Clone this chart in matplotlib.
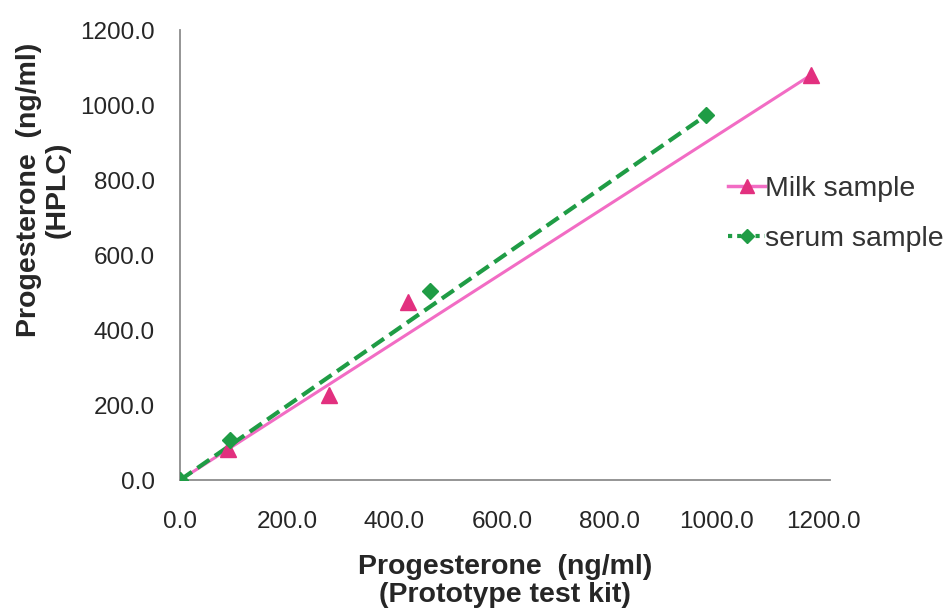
import numpy as np
import matplotlib.pyplot as plt
from matplotlib.lines import Line2D

plt.rcParams['font.family'] = ['Liberation Sans', 'DejaVu Sans']

# data (ng/ml)
milk_kit = [0.0, 89.0, 278.0, 426.0, 1176.0]
milk_hplc = [0.0, 83.0, 227.0, 475.0, 1080.0]
serum_kit = [0.0, 93.0, 467.0, 981.0]
serum_hplc = [0.0, 107.0, 504.0, 973.0]

ticks = [0, 200, 400, 600, 800, 1000, 1200]
tick_labels = ['%.1f' % t for t in ticks]

pink_line = '#f26cc4'
pink_mark = '#e2307f'
green = '#1f9c45'

fig = plt.figure(figsize=(9.52, 6.14), dpi=100)
ax = fig.add_axes([0.189, 0.218, 0.683, 0.733])

# trend lines through origin up to the last sample
k_milk = milk_hplc[-1] / milk_kit[-1]
k_serum = serum_hplc[-1] / serum_kit[-1]
xm = np.array([0.0, max(milk_kit)])
xs = np.array([0.0, max(serum_kit)])
ax.plot(xm, k_milk * xm, color=pink_line, lw=2.2, zorder=2)
ax.plot(xs, k_serum * xs, color=green, lw=3, dashes=(3.5, 1.6), zorder=3)

ax.plot(milk_kit, milk_hplc, ls='none', marker='^', ms=12, color=pink_mark, zorder=4)
ax.plot(serum_kit, serum_hplc, ls='none', marker='D', ms=8, color=green, zorder=5)

ax.set_xlim(0, 1212)
ax.set_ylim(0, 1200)
ax.set_xticks(ticks)
ax.set_xticklabels(tick_labels)
ax.set_yticks(ticks)
ax.set_yticklabels(tick_labels)
ax.tick_params(length=0, labelsize=17.5, colors='#262626')
ax.tick_params(axis='x', pad=22)
ax.tick_params(axis='y', pad=18)
for s in ['top', 'right']:
    ax.spines[s].set_visible(False)
for s in ['left', 'bottom']:
    ax.spines[s].set_color('#8c8c8c')
    ax.spines[s].set_linewidth(1.3)

ax.set_xlabel('Progesterone  (ng/ml)\n(Prototype test kit)', fontsize=20.5,
              fontweight='bold', color='#262626', linespacing=1.1)
ax.xaxis.set_label_coords(0.5, -0.165)
ax.set_ylabel('Progesterone  (ng/ml)\n(HPLC)', fontsize=20.5,
              fontweight='bold', color='#262626', linespacing=1.15)
ax.yaxis.set_label_coords(-0.168, 0.645)

handles = [
    Line2D([], [], color=pink_line, lw=2.5, marker='^', ms=10,
           mfc=pink_mark, mec=pink_mark),
    Line2D([], [], color=green, lw=3, ls=(0, (1, 1.2)), marker='D', ms=7,
           mfc=green, mec=green),
]
fig.legend(handles, ['Milk sample', 'serum sample'], loc='upper left',
           bbox_to_anchor=(0.765, 0.714), frameon=False, fontsize=20.5,
           handlelength=1.3, handletextpad=0.0, labelspacing=0.85,
           labelcolor='#333333', borderaxespad=0, borderpad=0)

fig.savefig('out.png', dpi=100, facecolor='w')
